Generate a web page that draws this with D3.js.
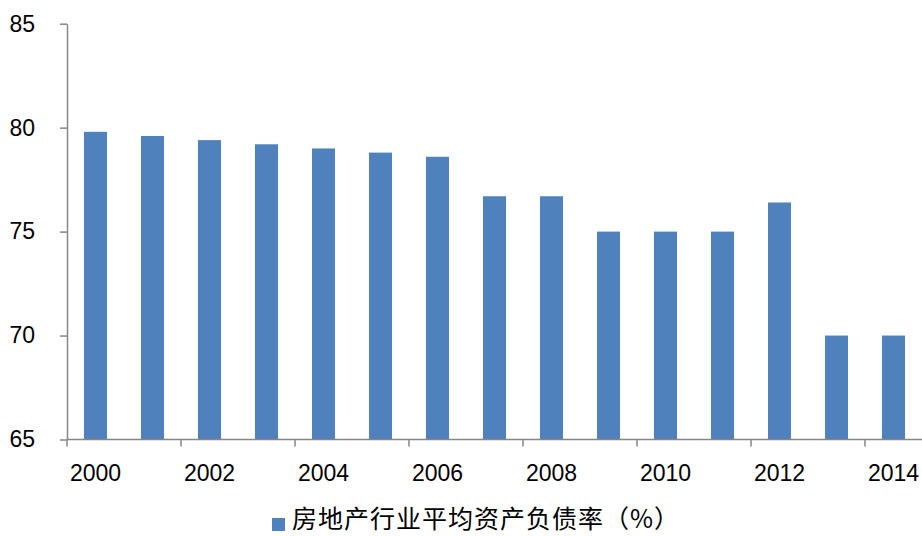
<!DOCTYPE html>
<html>
<head>
<meta charset="utf-8">
<script src="https://cdn.jsdelivr.net/npm/d3@7/dist/d3.min.js"></script>
<style>
  html, body { margin: 0; padding: 0; background: #fff; }
  svg { display: block; }
</style>
</head>
<body>
<svg id="chart" width="922" height="536"></svg>
<script>
const years = ["2000","2001","2002","2003","2004","2005","2006","2007","2008","2009","2010","2011","2012","2013","2014"];
const debtRatio = [79.8, 79.6, 79.4, 79.2, 79.0, 78.8, 78.6, 76.7, 76.7, 75.0, 75.0, 75.0, 76.4, 70.0, 70.0];
const yTicks = [65, 70, 75, 80, 85];
const xLabels = ["2000","2002","2004","2006","2008","2010","2012","2014"];
const seriesName = "房地产行业平均资产负债率（%）";

(function () {
const svg = d3.select("#chart");
const mLeft = 67, mRight = 922, mTop = 23.7, mBottom = 439.5;
const axisColor = "#868686";
const barColor = "#4f81bd";
const numFont = "'Liberation Sans', Arial, sans-serif";

const x = d3.scaleBand().domain(years).range([mLeft, mRight]).paddingInner(0.596).paddingOuter(0.298);
const y = d3.scaleLinear().domain([65, 85]).range([mBottom, mTop]);
const gap = (x.step() - x.bandwidth()) / 2;

// bars
svg.append("g").selectAll("rect").data(years).join("rect")
  .attr("x", d => x(d))
  .attr("width", x.bandwidth())
  .attr("y", (d, i) => y(debtRatio[i]))
  .attr("height", (d, i) => y(65) - y(debtRatio[i]))
  .attr("fill", barColor);

// y axis
const yAxis = svg.append("g").attr("transform", `translate(${mLeft},0)`)
  .call(d3.axisLeft(y).tickValues(yTicks).tickSize(7).tickSizeOuter(0).tickPadding(25).tickFormat(d3.format("d")));
yAxis.select(".domain").attr("stroke", axisColor).attr("stroke-width", 1.5);
yAxis.selectAll(".tick line").attr("stroke", axisColor).attr("stroke-width", 1.5);
yAxis.selectAll(".tick text").attr("font-family", numFont).attr("font-size", 23).attr("fill", "#000");

// x axis
const xAxis = svg.append("g");
xAxis.append("line").attr("x1", mLeft).attr("x2", mRight).attr("y1", y(65)).attr("y2", y(65))
  .attr("stroke", axisColor).attr("stroke-width", 1.5);
const tickYears = years.filter((d, i) => i % 2 === 0);
xAxis.selectAll("line.tk").data(tickYears).join("line").attr("class", "tk")
  .attr("x1", d => x(d) - gap).attr("x2", d => x(d) - gap)
  .attr("y1", y(65)).attr("y2", y(65) + 7)
  .attr("stroke", axisColor).attr("stroke-width", 1.5);
xAxis.selectAll("text").data(xLabels).join("text")
  .attr("x", d => x(d) + x.bandwidth() / 2)
  .attr("y", 481)
  .attr("text-anchor", "middle")
  .attr("font-family", numFont).attr("font-size", 23).attr("fill", "#000")
  .text(d => d);

// legend
const lg = svg.append("g");
lg.append("rect").attr("x", 272).attr("y", 518).attr("width", 13).attr("height", 13).attr("fill", barColor);
lg.append("text").attr("x", 292).attr("y", 528)
  .attr("font-family", "'Noto Sans CJK SC', sans-serif").attr("font-size", 25)
  .attr("letter-spacing", 1).attr("fill", "#000")
  .text(seriesName);
})();
</script>
</body>
</html>
